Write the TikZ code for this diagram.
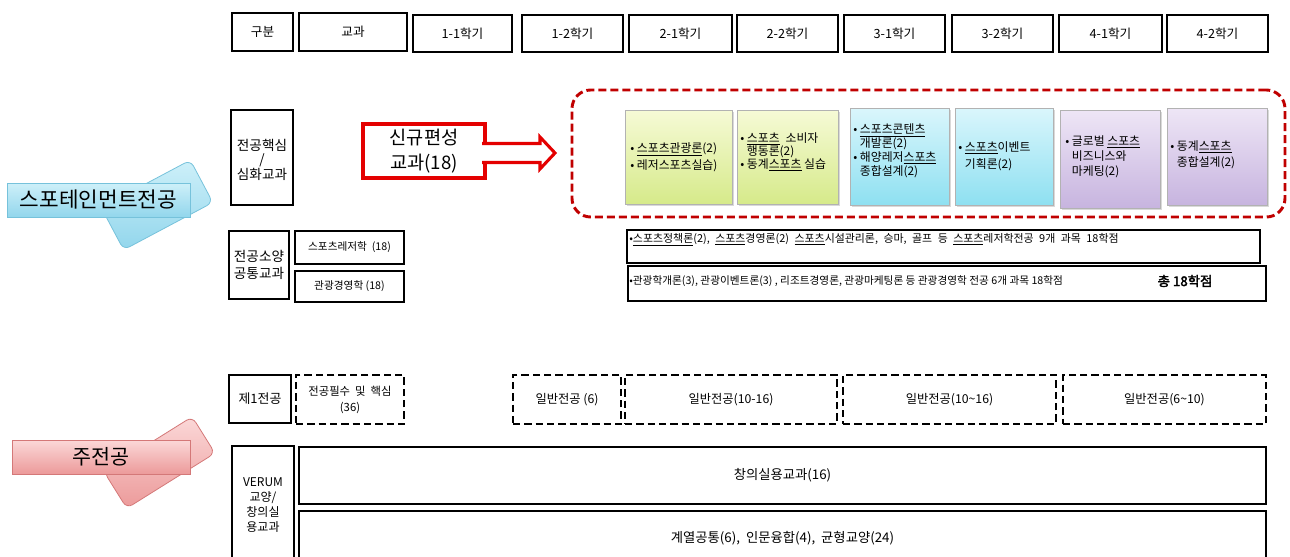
\documentclass[tikz,border=0pt]{standalone}
\usepackage{fontspec}
\setmainfont{Noto Sans CJK KR}[AutoFakeBold=2.5]
\usetikzlibrary{fit,shadows}
\definecolor{framered}{RGB}{192,0,0}
\definecolor{arrowred}{RGB}{228,0,0}
\definecolor{greentop}{RGB}{246,250,214}
\definecolor{greenbot}{RGB}{214,234,138}
\definecolor{cyantop}{RGB}{218,246,252}
\definecolor{cyanbot}{RGB}{142,224,241}
\definecolor{purpletop}{RGB}{238,230,246}
\definecolor{purplebot}{RGB}{199,180,223}
\definecolor{bluetop}{RGB}{206,240,249}
\definecolor{bluebot}{RGB}{146,214,236}
\definecolor{blueedge}{RGB}{118,194,219}
\definecolor{pinktop}{RGB}{251,216,216}
\definecolor{pinkbot}{RGB}{236,154,154}
\definecolor{pinkedge}{RGB}{212,120,120}
\tikzset{
  cell/.style={draw, line width=2pt, inner sep=0pt},
  dcell/.style={cell, dash pattern=on 5.5pt off 3pt},
  course/.style={draw=black!30, line width=0.6pt, inner sep=0pt,
    drop shadow={opacity=0.3, shadow xshift=1.2pt, shadow yshift=-1.2pt}},
  greenbox/.style={course, top color=greentop, bottom color=greenbot},
  cyanbox/.style={course, top color=cyantop, bottom color=cyanbot},
  purplebox/.style={course, top color=purpletop, bottom color=purplebot},
  txt/.style={inner sep=0pt, align=center},
  ctext/.style={anchor=west, align=left, inner sep=0pt},
  hd/.style={txt, font=\fontsize{9.5}{11}\selectfont},
  lab/.style={txt, font=\fontsize{10.2}{12.75}\selectfont},
  small/.style={txt, font=\fontsize{8}{10}\selectfont},
  gen/.style={txt, font=\fontsize{9.2}{12}\selectfont},
  wide/.style={txt, font=\fontsize{10}{12}\selectfont},
  blueback/.style={draw=blueedge, line width=0.6pt, top color=bluetop, bottom color=bluebot, rounded corners=5pt},
  bluefront/.style={draw=blueedge, line width=0.6pt, top color=bluetop, bottom color=bluebot, inner sep=0pt,
    drop shadow={opacity=0.25, shadow xshift=0.8pt, shadow yshift=-0.8pt}},
  pinkback/.style={draw=pinkedge, line width=0.6pt, top color=pinktop, bottom color=pinkbot, rounded corners=5pt},
  pinkfront/.style={draw=pinkedge, line width=0.6pt, top color=pinktop, bottom color=pinkbot, inner sep=0pt,
    drop shadow={opacity=0.25, shadow xshift=0.8pt, shadow yshift=-0.8pt}}
}
\begin{document}
\begin{tikzpicture}[x=0.75pt,y=-0.75pt]
\useasboundingbox (0,0) rectangle (1290,557);
\clip (0,0) rectangle (1290,557);
% header
\node[cell, fit={(232,13) (293,51)}] (gubun) {};
\node[hd] (gubunt) at (gubun) {구분};
\node[cell, fit={(299,13) (407,51)}] (gyogwa) {};
\node[hd] (gyogwat) at (gyogwa) {교과};
\foreach \a/\b/\t [count=\i] in {413/512/1-1, 522/623/1-2, 629/732/2-1, 737/838/2-2,
    844/945/3-1, 952/1053/3-2, 1059/1162/4-1, 1167/1268/4-2}{
  \node[cell, fit={(\a,15) (\b,52)}] (sem\i) {};
  \node[hd] (sem\i t) at (sem\i) {{\t}학기};
}

% sportainment
\node[blueback, minimum width=75.75pt, minimum height=36pt, rotate=28] (spback) at (157,205) {};
\node[bluefront, fit={(7,183) (190,217)}] (sport) {};
\node[txt, font=\fontsize{16}{18}\selectfont] (sportt) at (sport) {스포테인먼트전공};
\node[cell, fit={(231,110) (293,205)}] (core) {};
\node[txt, font=\fontsize{10.2}{10}\selectfont] (coret) at (262,160) {전공핵심\\/\\심화교과};

\node[draw=arrowred, line width=2.3pt, fill=white, inner sep=0pt, fit={(363,124) (485,178)}] (newc) {};
\filldraw[draw=arrowred, fill=white, line width=2.3pt, line join=miter]
  (482,143.5) -- (540,143.5) -- (540,137) -- (555,153) -- (540,169) -- (540,162.5) -- (482,162.5);
\node[txt, font=\fontsize{14}{19}\selectfont] (newct) at (newc) {신규편성\\교과(18)};

\node[draw=framered, line width=2.2pt, dash pattern=on 6pt off 3pt, rounded corners=14pt,
  inner sep=0pt, fit={(572,90) (1285,217)}] (newframe) {};
\node[greenbox, fit={(625,110) (732,204)}] (c1) {};
\node[greenbox, fit={(737,110) (838,204)}] (c2) {};
\node[cyanbox, fit={(850,108) (949,205)}] (c3) {};
\node[cyanbox, fit={(955,108) (1053,205)}] (c4) {};
\node[purplebox, fit={(1060,110) (1160,208)}] (c5) {};
\node[purplebox, fit={(1167,108) (1267,205)}] (c6) {};
\node[ctext, font=\fontsize{8.9}{12.75}\selectfont] (t1) at (630,157.5)
  {• \underline{스포츠관광론}(2)\\• 레저스포츠실습)};
\node[ctext, font=\fontsize{8.9}{9.75}\selectfont] (t2) at (740,152)
  {• \underline{스포츠}\enspace 소비자\\\hphantom{• }행동론(2)\\• 동계\underline{스포츠} 실습};
\node[ctext, font=\fontsize{8.9}{9}\selectfont] (t3) at (853,150.5)
  {• \underline{스포츠콘텐츠}\\\hphantom{• }개발론(2)\\• 해양레저\underline{스포츠}\\\hphantom{• }종합설계(2)};
\node[ctext, font=\fontsize{8.9}{12.75}\selectfont] (t4) at (958,156)
  {• \underline{스포츠}이벤트\\\hphantom{• }기획론(2)};
\node[ctext, font=\fontsize{8.9}{11.25}\selectfont] (t5) at (1065,157)
  {• 글로벌 \underline{스포츠}\\\hphantom{• }비즈니스와\\\hphantom{• }마케팅(2)};
\node[ctext, font=\fontsize{8.9}{12}\selectfont] (t6) at (1170,155)
  {• 동계\underline{스포츠}\\\hphantom{• }종합설계(2)};

% common courses
\node[cell, fit={(229,231) (289,299)}] (common) {};
\node[lab] (commont) at (common) {전공소양\\공통교과};
\node[cell, fit={(295,231) (404,264)}] (leisure) {};
\node[small] (leisuret) at (leisure) {스포츠레저학\ \ (18)};
\node[cell, fit={(295,271) (404,302)}] (tour) {};
\node[small] (tourt) at (tour) {관광경영학 (18)};
\node[cell, fit={(627,230) (1260,263)}] (row1) {};
\node[cell, fit={(628,266) (1266,301)}] (row2) {};
\node[ctext, font=\fontsize{8.2}{10}\selectfont] (row1t) at (629,240)
  {\spaceskip=0.5em\relax •\underline{스포츠정책론}(2), \underline{스포츠}경영론(2) \underline{스포츠}시설관리론, 승마, 골프 등 \underline{스포츠}레저학전공 9개 과목 18학점};
\node[ctext, font=\fontsize{8}{10}\selectfont] (row2t) at (629,281)
  {•관광학개론(3), 관광이벤트론(3) , 리조트경영론, 관광마케팅론 등 관광경영학 전공 6개 과목 18학점};
\node[txt, font=\fontsize{10}{12}\selectfont] (total) at (1185,281) {\textbf{총 18학점}};

% main major
\node[pinkback, minimum width=78pt, minimum height=32.25pt, rotate=32] (majback) at (159.5,462.5) {};
\node[pinkfront, fit={(12,440) (190,474)}] (major) {};
\node[txt, font=\fontsize{15.5}{18}\selectfont] (majort) at (major) {주전공};
\node[cell, fit={(229,375) (291,423)}] (first) {};
\node[txt, font=\fontsize{9.7}{11}\selectfont] (firstt) at (first) {제1전공};
\node[dcell, fit={(296,375) (404,424)}] (req) {};
\node[txt, font=\fontsize{8.5}{12}\selectfont] (reqt) at (req) {전공필수\ \ 및\ \ 핵심\\(36)};
\node[dcell, fit={(513,375) (621,424)}] (gen1) {};
\node[gen] (gen1t) at (gen1) {일반전공 (6)};
\node[dcell, fit={(625,375) (837,424)}] (gen2) {};
\node[gen] (gen2t) at (gen2) {일반전공(10-16)};
\node[dcell, fit={(843,375) (1056,424)}] (gen3) {};
\node[gen] (gen3t) at (gen3) {일반전공(10\textasciitilde16)};
\node[dcell, fit={(1063,375) (1266,424)}] (gen4) {};
\node[gen] (gen4t) at (gen4) {일반전공(6\textasciitilde10)};
\node[cell, fit={(232,446) (294,566)}] (verum) {};
\node[txt, font=\fontsize{9}{11.25}\selectfont] (verumt) at (263,505) {VERUM\\교양/\\창의실\\용교과};
\node[cell, fit={(299,447) (1266,504)}] (creative) {};
\node[wide] (creativet) at (creative) {창의실용교과(16)};
\node[cell, fit={(299,511) (1266,566)}] (liberal) {};
\node[wide] (liberalt) at (liberal) {계열공통(6),\ \ 인문융합(4),\ \ 균형교양(24)};
\end{tikzpicture}
\end{document}
